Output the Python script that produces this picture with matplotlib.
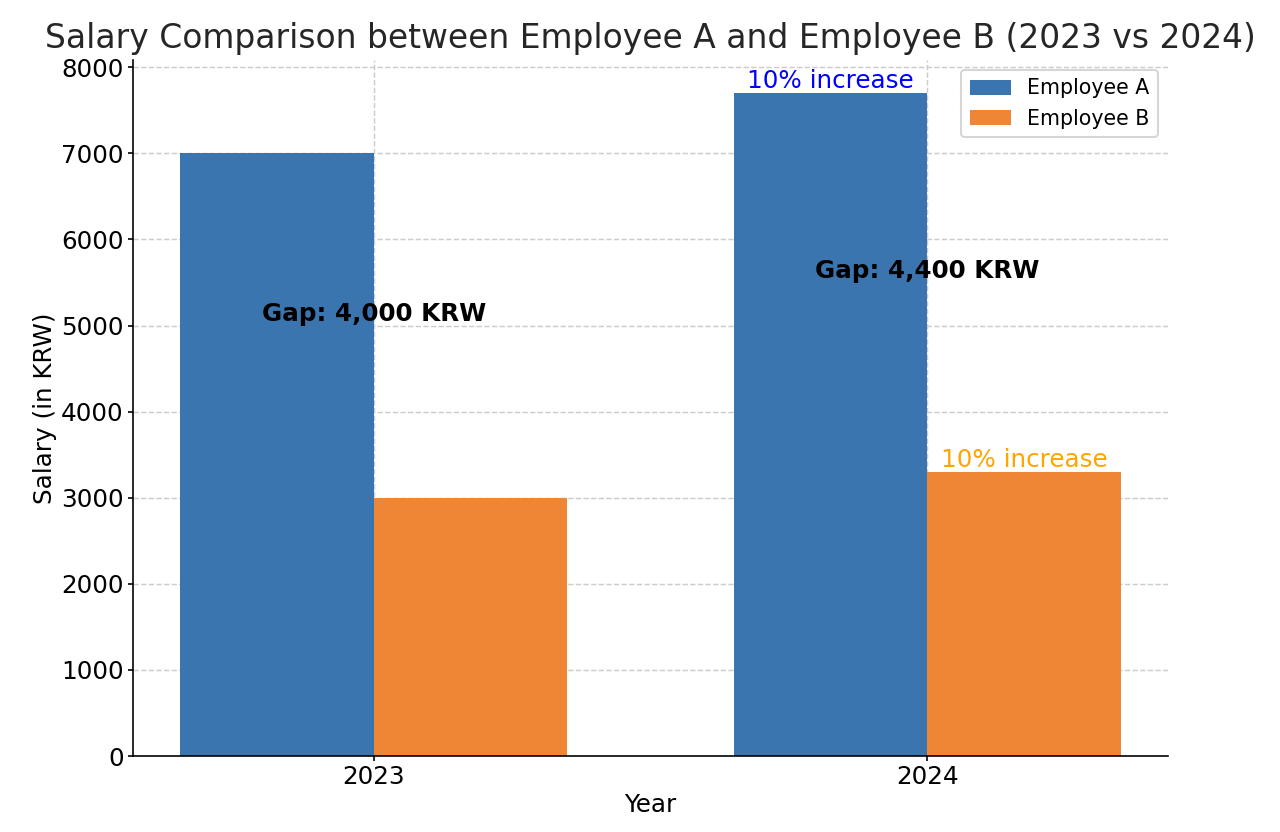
import numpy as np
import matplotlib.pyplot as plt

years = ["2023", "2024"]
salaryA = [7000, 7700]
salaryB = [3000, 3300]

x = np.arange(len(years))
width = 0.35

fig, ax = plt.subplots(figsize=(1280 / 148, 832 / 148), dpi=148)
fig.subplots_adjust(left=133 / 1280, right=1168 / 1280, top=1 - 60 / 832, bottom=1 - 756 / 832)

barsA = ax.bar(x - width / 2, salaryA, width, label="Employee A", color="#3a75af")
barsB = ax.bar(x + width / 2, salaryB, width, label="Employee B", color="#ef8636")

# gap labels between the two bars
for i in range(len(years)):
    gap = salaryA[i] - salaryB[i]
    ax.text(x[i], (salaryA[i] + salaryB[i]) / 2, "Gap: {:,} KRW".format(gap),
            ha="center", va="bottom", fontsize=12, fontweight="bold", color="black")

# increase labels on 2024 bars
incA = round((salaryA[1] - salaryA[0]) / salaryA[0] * 100)
incB = round((salaryB[1] - salaryB[0]) / salaryB[0] * 100)
ax.text(x[1] - width / 2, salaryA[1], "{}% increase".format(incA),
        ha="center", va="bottom", fontsize=12, color="blue")
ax.text(x[1] + width / 2, salaryB[1], "{}% increase".format(incB),
        ha="center", va="bottom", fontsize=12, color="orange")

ax.set_title("Salary Comparison between Employee A and Employee B (2023 vs 2024)",
             fontsize=16, color="#262626")
ax.set_xlabel("Year", fontsize=12, labelpad=2)
ax.set_ylabel("Salary (in KRW)", fontsize=12, labelpad=2)
ax.set_xticks(x)
ax.set_xticklabels(years, fontsize=12)
ax.tick_params(axis="y", labelsize=12)
ax.tick_params(length=2.5, pad=2)
ax.grid(True, linestyle="--", color="#cccccc", linewidth=0.7)
ax.set_axisbelow(True)
ax.spines["top"].set_visible(False)
ax.spines["right"].set_visible(False)
ax.legend(loc="upper right", fontsize=10)

plt.savefig("out.png")
